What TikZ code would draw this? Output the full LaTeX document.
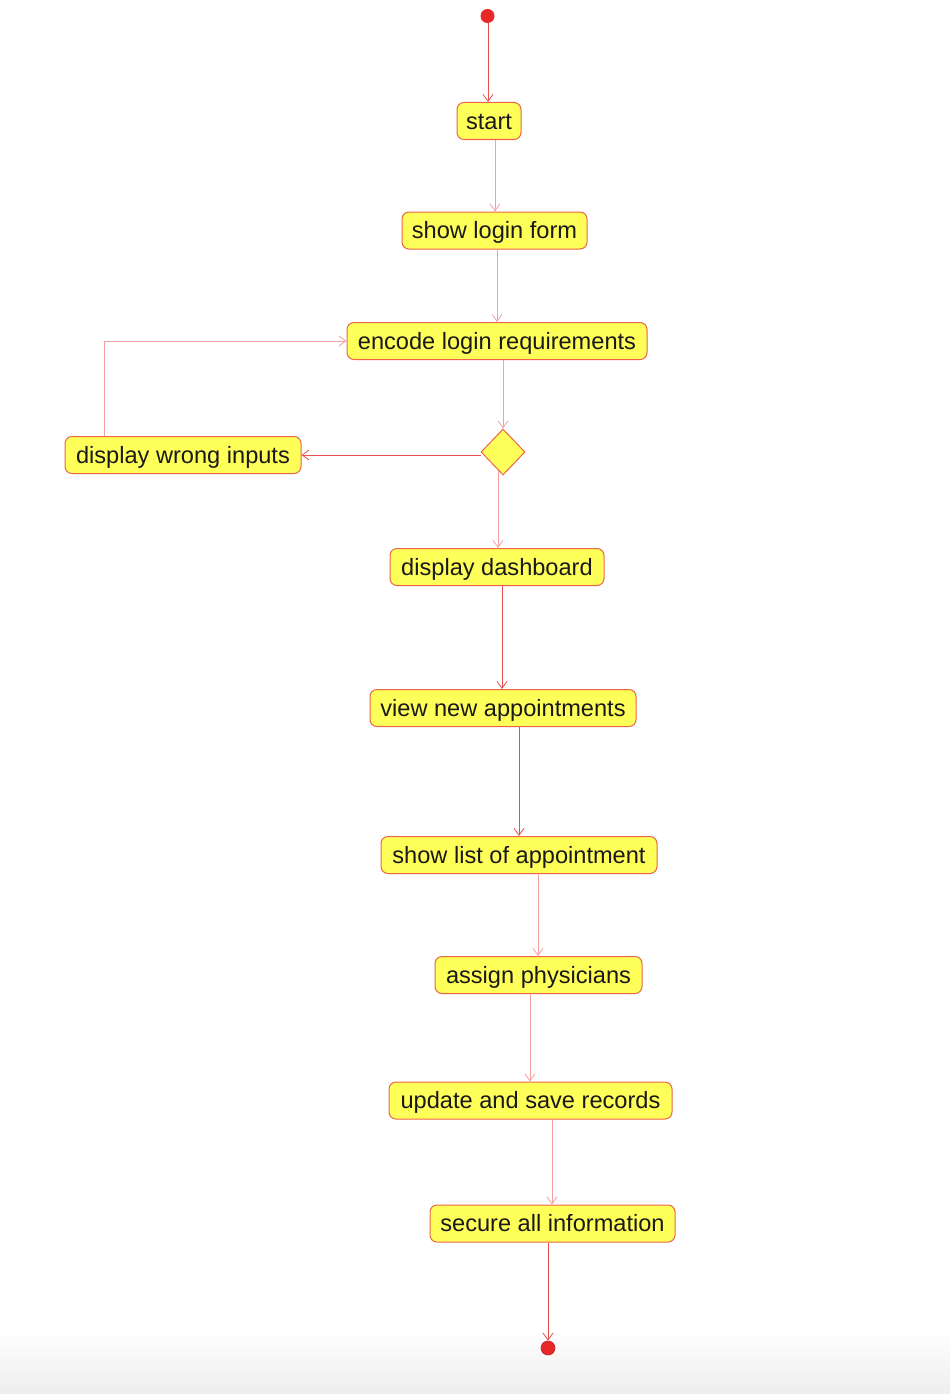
\documentclass[tikz,border=0pt]{standalone}
\usepackage{fontspec}
\setmainfont{Liberation Sans}
\usetikzlibrary{arrows.meta,shapes.geometric}
\definecolor{actfill}{RGB}{255,255,90}
\definecolor{actline}{RGB}{236,100,72}
\definecolor{flowdark}{RGB}{232,80,80}
\definecolor{flowpale}{RGB}{245,160,160}
\definecolor{dotred}{RGB}{230,40,40}
\begin{document}
\begin{tikzpicture}[x=1pt,y=-1pt,
  action/.style={draw=actline, fill=actfill, rounded corners=7pt, line width=1pt,
    minimum height=37pt, inner xsep=0pt, inner ysep=0pt, text=black!90,
    text height=19pt, text depth=3pt,
    font=\fontsize{23.6}{26}\selectfont},
  choice/.style={diamond, draw=actline, fill=actfill, line width=1pt,
    minimum width=44pt, minimum height=46pt, inner sep=0pt},
  dot/.style={circle, fill=dotred, minimum size=14pt, inner sep=0pt},
  flow/.style={draw=flowdark, line width=1pt,
    -{Straight Barb[length=7pt,width=10pt,line width=0.8pt]}},
  pale/.style={flow, draw=flowpale},
]
% page and the soft grey band along the bottom edge
\fill[white] (0,0) rectangle (950,1394);
\useasboundingbox (0,0) rectangle (950,1394);
\shade[top color=white, bottom color=black!7] (0,1330) rectangle (950,1394);

% activities
\node[dot] (init) at (487.5,16) {};
\node[action, minimum width=64pt]  (start)  at (489,121)     {start};
\node[action, minimum width=185pt] (login)  at (494.5,230.5) {show login form};
\node[action, minimum width=300pt] (encode) at (497,341)     {encode login requirements};
\node[choice]                      (check)  at (503,452)     {};
\node[action, minimum width=236pt] (wrong)  at (183,455)     {display wrong inputs};
\node[action, minimum width=214pt] (dash)   at (497,567)     {display dashboard};
\node[action, minimum width=266pt] (view)   at (503,708)     {view new appointments};
\node[action, minimum width=276pt] (list)   at (519,855)     {show list of appointment};
\node[action, minimum width=207pt] (assign) at (538.5,975)   {assign physicians};
\node[action, minimum width=283pt] (update) at (530.5,1100.5){update and save records};
\node[action, minimum width=245pt] (secure) at (552.5,1223.5){secure all information};
\node[dot, draw=dotred!80!black, line width=0.6pt] (final) at (548,1348) {};

% control flow
\draw[flow] ([xshift=0.5pt]init.south)   -- ([xshift=-1pt]start.north);
\draw[pale] ([xshift=6pt]start.south)    -- ([xshift=0.5pt]login.north);
\draw[pale] ([xshift=2.5pt]login.south)  -- (encode.north);
\draw[pale] ([xshift=6pt]encode.south)   -- (check.north);
\draw[flow] (wrong.east -| check.west)   -- (wrong.east);
\draw[pale] ([xshift=-79pt]wrong.north)  |- (encode.west);
\draw[pale] ([xshift=-5pt,yshift=5pt]check.south) -- ([xshift=1pt]dash.north);
\draw[flow] ([xshift=5pt]dash.south)     -- ([xshift=-1pt]view.north);
\draw[flow] ([xshift=16pt]view.south)    -- (list.north);
\draw[pale] ([xshift=19pt]list.south)    -- ([xshift=-0.5pt]assign.north);
\draw[pale] ([xshift=-8.5pt]assign.south)-- ([xshift=-0.5pt]update.north);
\draw[pale] ([xshift=21.5pt]update.south)-- ([xshift=-0.5pt]secure.north);
\draw[flow] ([xshift=-4.5pt]secure.south)-- (final.north);
\end{tikzpicture}
\end{document}
